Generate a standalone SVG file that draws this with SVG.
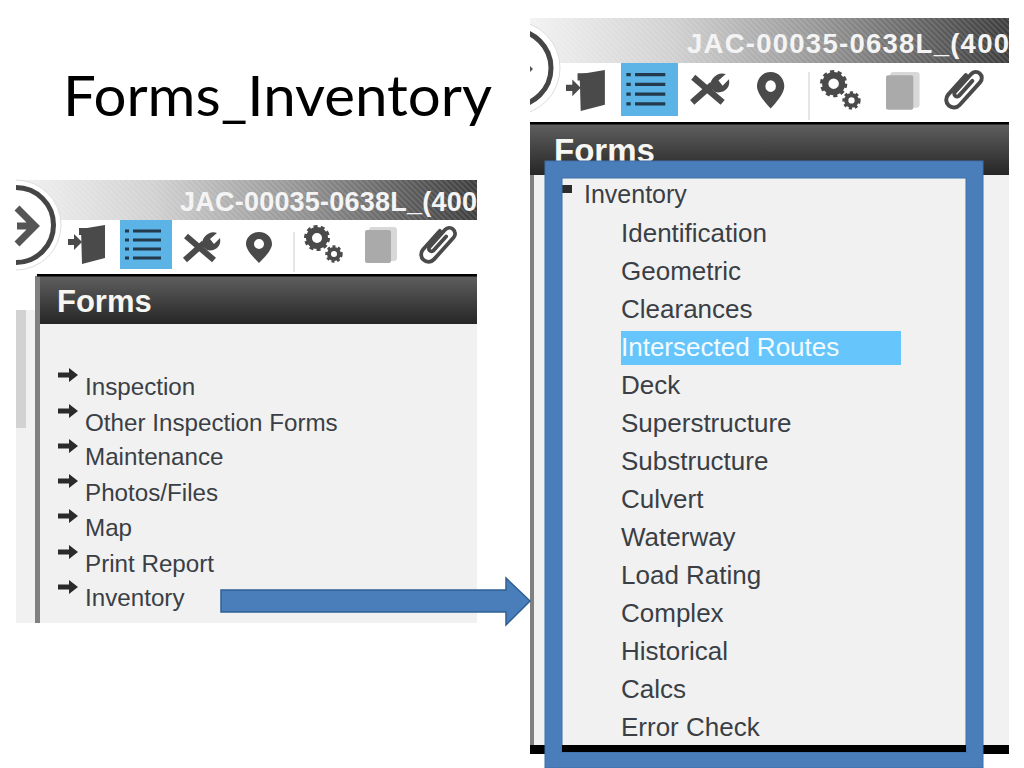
<svg xmlns="http://www.w3.org/2000/svg" width="1024" height="768" viewBox="0 0 1024 768">
<style>
.menu{font-family:"Liberation Sans",Arial,sans-serif;fill:#3a3f45}
.l{font-size:24.2px}
.r{font-size:26px}
.head{font-family:"Liberation Sans",Arial,sans-serif;font-weight:bold;fill:#f6f6f2}
.code{font-family:"Liberation Sans",Arial,sans-serif;font-weight:bold;fill:#f4f4f4}
.ic{fill:#4a4a4a}
.ln{fill:none;stroke:#4a4a4a}
</style>
<defs>
<linearGradient id="strip" x1="0" x2="1" y1="0" y2="0">
<stop offset="0" stop-color="#f2f2f2"/><stop offset="0.3" stop-color="#d0d0d0"/><stop offset="0.6" stop-color="#969696"/><stop offset="0.85" stop-color="#5c5c5c"/><stop offset="1" stop-color="#3c3c3c"/>
</linearGradient>
<pattern id="hatch" width="4" height="4" patternUnits="userSpaceOnUse" patternTransform="rotate(45)">
<rect width="4" height="2" fill="#fff" fill-opacity="0.12"/>
</pattern>
<linearGradient id="dark" x1="0" x2="0" y1="0" y2="1">
<stop offset="0" stop-color="#5f5f5f"/><stop offset="1" stop-color="#262626"/>
</linearGradient>
<clipPath id="cl"><rect x="16" y="170" width="60" height="110"/></clipPath>
<clipPath id="cr"><rect x="530" y="10" width="60" height="112"/></clipPath>
<g id="door"><path class="ic" d="M13 4L37 0V33L14 39Z"/><path class="ic" d="M0 14H6V9L14 17L6 25V20H0Z"/><path class="ic" d="M11 3H34V6H14V10H11Z"/></g>
<g id="list"><path d="M13 9H41M13 18H41M13 27H41M13 36H41" stroke="#23394c" stroke-width="3" fill="none"/><path d="M5 9H9M5 18H9M5 27H9M5 36H9" stroke="#23394c" stroke-width="3" fill="none"/></g>
<g id="tools"><path class="ln" stroke-width="6" d="M5 5L33 29"/><path class="ln" stroke-width="6" d="M4 29L23 12"/><path class="ic" d="M21 15C20 7 28 -1 36 2L29 8L33 13L39 7C41 16 33 21 26 19Z"/></g>
<g id="pin"><path class="ic" fill-rule="evenodd" d="M13 0C21 0 26 6 26 12C26 18 18 26 13 31C8 26 0 18 0 12C0 6 5 0 13 0ZM13 7A5 5 0 1 0 13.01 17A5 5 0 1 0 13 7Z"/></g>
<g id="gears"><circle class="ln" cx="13" cy="13" r="8" stroke-width="6"/><circle class="ln" cx="13" cy="13" r="11.500" stroke-width="3" stroke-dasharray="4 3.2"/><circle class="ln" cx="30" cy="29" r="5" stroke-width="4"/><circle class="ln" cx="30" cy="29" r="7.500" stroke-width="2.400" stroke-dasharray="3 2.600"/></g>
<g id="book"><rect x="4" y="0" width="28" height="34" rx="3" fill="#d8d8d8"/><rect x="0" y="3" width="26" height="33" rx="2" fill="#aaa"/></g>
<g id="clip"><path class="ln" stroke-width="3.600" stroke-linecap="round" transform="translate(24,-7) rotate(42)" d="M4 12V36a7 7 0 0 0 14 0V8a5.500 5.500 0 0 0 -11 0V30a2.500 2.500 0 0 0 5 0V12"/></g>
<g id="arrowbul"><path d="M0 -2.500H11V-7L20 0L11 7V2.500H0Z" fill="#2a2a2a"/></g>
</defs>
<rect width="1024" height="768" fill="#fff"/>
<text id="title" x="63" y="116" font-family="Lato,'Open Sans',sans-serif" font-size="57" fill="#000" textLength="429" lengthAdjust="spacingAndGlyphs">Forms_Inventory</text>

<g id="left-panel">
<rect x="16" y="180" width="461" height="40" fill="url(#strip)"/>
<rect x="16" y="180" width="461" height="40" fill="url(#hatch)"/>
<rect x="16" y="220" width="461" height="54" fill="#fff"/>
<g clip-path="url(#cl)">
<circle cx="16" cy="225" r="45" fill="#fff" stroke="#ddd"/>
<circle cx="16" cy="225" r="37.500" fill="none" stroke="#454545" stroke-width="5"/>
</g>
<path d="M17 208L35 226L17 244M17 226H33" fill="none" stroke="#555" stroke-width="7"/>
<rect x="120" y="220" width="52" height="49" fill="#5cb3e6"/>
<use href="#door" transform="translate(68,225)"/>
<use href="#list" transform="translate(120,222)"/>
<use href="#tools" transform="translate(181,231)"/>
<use href="#pin" transform="translate(246,232)"/>
<path d="M294 232V272" stroke="#ccc"/>
<use href="#gears" transform="translate(304,225)"/>
<use href="#book" transform="translate(365,227)"/>
<use href="#clip" transform="translate(420,226) scale(1.05)"/>
<text class="code" x="180" y="211" font-size="27" textLength="297" lengthAdjust="spacing">JAC-00035-0638L_(400</text>
<rect x="16" y="274" width="461" height="349" fill="#f1f1f1"/>
<rect x="16" y="274" width="19" height="36" fill="#fff"/>
<rect x="16" y="310" width="10" height="118" fill="#d2d2d2"/>
<rect x="35" y="276" width="5" height="347" fill="#808080"/>
<rect x="40" y="276" width="437" height="48" fill="url(#dark)"/>
<rect x="37" y="274" width="440" height="2.500" fill="#000"/>
<text class="head" x="57" y="312" font-size="31">Forms</text>
<g class="menu l">
<text x="85" y="395">Inspection</text>
<text x="85" y="431">Other Inspection Forms</text>
<text x="85" y="465">Maintenance</text>
<text x="85" y="501">Photos/Files</text>
<text x="85" y="536">Map</text>
<text x="85" y="572">Print Report</text>
<text x="85" y="606">Inventory</text>
</g>
<use href="#arrowbul" x="58" y="375"/>
<use href="#arrowbul" x="58" y="411"/>
<use href="#arrowbul" x="58" y="446"/>
<use href="#arrowbul" x="58" y="481"/>
<use href="#arrowbul" x="58" y="516"/>
<use href="#arrowbul" x="58" y="552"/>
<use href="#arrowbul" x="58" y="587"/>
</g>

<g id="right-panel">
<rect x="530" y="18" width="479" height="45" fill="url(#strip)"/>
<rect x="530" y="18" width="479" height="45" fill="url(#hatch)"/>
<rect x="530" y="63" width="479" height="59" fill="#fff"/>
<g clip-path="url(#cr)">
<circle cx="513" cy="68" r="47" fill="#fff" stroke="#ddd"/>
<circle cx="513" cy="68" r="38" fill="none" stroke="#454545" stroke-width="5"/>
</g>
<path d="M530 66L533 69L530 72Z" fill="#555"/>
<rect x="621" y="63" width="57" height="53" fill="#5cb3e6"/>
<use href="#door" transform="translate(566,70) scale(1.05)"/>
<use href="#list" transform="translate(621,65) scale(1.08)"/>
<use href="#tools" transform="translate(688,72) scale(1.05)"/>
<use href="#pin" transform="translate(757,72) scale(1.05,1.18)"/>
<path d="M809 72V120" stroke="#ccc"/>
<use href="#gears" transform="translate(820,70) scale(1.05)"/>
<use href="#book" transform="translate(886,72) scale(1.05)"/>
<use href="#clip" transform="translate(945,70) scale(1.1)"/>
<text class="code" x="687" y="53" font-size="27.500" textLength="322" lengthAdjust="spacing">JAC-00035-0638L_(400</text>
<rect x="530" y="124" width="479" height="621" fill="#f1f1f1"/>
<rect x="530" y="124" width="479" height="51" fill="url(#dark)"/>
<rect x="530" y="122" width="479" height="2.500" fill="#000"/>
<rect x="530" y="175" width="4" height="570" fill="#808080"/>
<rect x="530" y="745" width="479" height="9" fill="#000"/>
<text class="head" x="554" y="162" font-size="33">Forms</text>
<rect x="621" y="331" width="280" height="34" fill="#66c6fb"/>
<rect x="562" y="185" width="10" height="8" fill="#2c2c2c"/>
<g class="menu r">
<text x="584" y="203" font-size="25">Inventory</text>
<text x="621" y="242">Identification</text>
<text x="621" y="280">Geometric</text>
<text x="621" y="318">Clearances</text>
<text x="621" y="356" style="fill:#f4fbff">Intersected Routes</text>
<text x="621" y="394">Deck</text>
<text x="621" y="432">Superstructure</text>
<text x="621" y="470">Substructure</text>
<text x="621" y="508">Culvert</text>
<text x="621" y="546">Waterway</text>
<text x="621" y="584">Load Rating</text>
<text x="621" y="622">Complex</text>
<text x="621" y="660">Historical</text>
<text x="621" y="698">Calcs</text>
<text x="621" y="736">Error Check</text>
</g>
</g>

<g id="connectors">
<path d="M221 590H506V578L530 601L506 625V612H221Z" fill="#4a7ebb" stroke="#2f5f93" stroke-width="1.500"/>
</g>
<g id="highlight-box">
<rect x="553.500" y="169.500" width="421" height="590" fill="none" stroke="#4a7ebb" stroke-width="17"/>
<rect x="545" y="161" width="438" height="607" fill="none" stroke="#3f6fa8" stroke-width="1"/>
<rect x="562" y="178" width="404" height="574" fill="none" stroke="#3f6fa8" stroke-width="1"/>
<rect x="562" y="745" width="404" height="7" fill="#000"/>
</g>
</svg>
